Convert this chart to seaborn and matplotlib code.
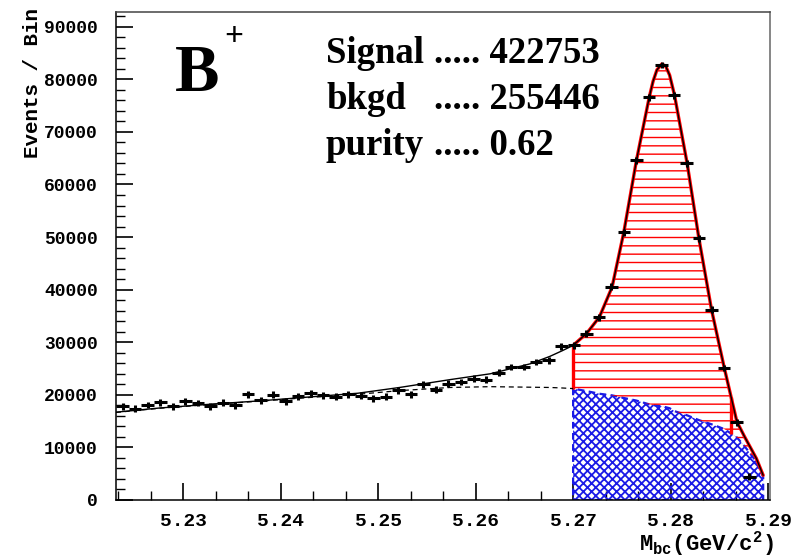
import numpy as np
import pandas as pd
import matplotlib
matplotlib.use("Agg")
import matplotlib.pyplot as plt
from matplotlib.ticker import MultipleLocator, FixedLocator
import seaborn as sns

# ---------------- data ----------------
# histogram bin centres (GeV) and events per bin
bin_centers = [5.223786, 5.225071, 5.226357, 5.227643, 5.228929, 5.230214, 5.231500,
               5.232786, 5.234071, 5.235357, 5.236643, 5.237929, 5.239214, 5.240500,
               5.241786, 5.243071, 5.244357, 5.245643, 5.246929, 5.248214, 5.249500,
               5.250786, 5.252071, 5.253357, 5.254643, 5.255929, 5.257214, 5.258500,
               5.259786, 5.261071, 5.262357, 5.263643, 5.264929, 5.266214, 5.267500,
               5.268786, 5.270071, 5.271357, 5.272643, 5.273929, 5.275214, 5.276500,
               5.277786, 5.279071, 5.280357, 5.281643, 5.282929, 5.284214, 5.285500,
               5.286786, 5.288071]
events = [17840, 17400, 18080, 18600, 17840, 18790, 18460,
          17840, 18540, 18030, 20110, 18980, 20060, 18790,
          19730, 20360, 19920, 19650, 20110, 19800, 19350,
          19650, 20870, 20110, 22010, 21000, 22140, 22450,
          23090, 22900, 24230, 25290, 25290, 26240, 26570,
          29220, 29410, 31630, 34780, 40550, 50910, 64640,
          76600, 82730, 77000, 64000, 49770, 36190, 25100,
          14740, 4420]
bin_width = 0.0012857
event_err = 650

# fit curves
fit_x = [5.2231, 5.2276, 5.2327, 5.2382, 5.2430, 5.2479, 5.2522, 5.2574, 5.2615,
         5.2656, 5.2676, 5.2689, 5.2700, 5.2714, 5.2727, 5.2740, 5.2752, 5.2765,
         5.2778, 5.2782, 5.2786, 5.2791, 5.2795, 5.2799, 5.2804, 5.2817, 5.2829,
         5.2842, 5.2855, 5.2868, 5.2876, 5.2888, 5.2895]
fit_total = [16700, 17500, 18200, 18900, 19600, 20300, 21400, 22900, 24000,
             25900, 27300, 28400, 29400, 31700, 34800, 40500, 50900, 64600,
             76500, 79600, 81800, 82900, 82500, 80800, 77000, 64000, 49800,
             36200, 25200, 14900, 12000, 7900, 4700]
fit_bkg = [16650, 17450, 18150, 18850, 19500, 20100, 20800, 21400, 21550,
           21450, 21400, 21300, 21190, 20700, 20200, 19900, 19400, 18900,
           18200, 18050, 17950, 17800, 17650, 17450, 16900, 16100, 15200,
           14400, 13500, 11900, 10200, 7300, 4400]
signal_edges = [5.2700, 5.2862]

stats_labels = ["Signal", "bkgd", "purity"]
stats_values = ["..... 422753", "..... 255446", "..... 0.62"]

# ---------------- style ----------------
sns.set_theme(style="white")
plt.rcParams["font.family"] = ["Liberation Mono", "DejaVu Sans"]
plt.rcParams["font.weight"] = "bold"
plt.rcParams["mathtext.fontset"] = "custom"
plt.rcParams["mathtext.rm"] = "Liberation Mono:bold"
plt.rcParams["mathtext.it"] = "Liberation Mono:bold"
plt.rcParams["mathtext.bf"] = "Liberation Mono:bold"

W, H = 807, 560
fig = plt.figure(figsize=(W / 100, H / 100), dpi=100)
ax = fig.add_axes([116 / W, 60 / H, 654 / W, 488 / H])

df_pts = pd.DataFrame({"m": bin_centers, "n": events})
df_fit = pd.DataFrame({"m": fit_x, "total": fit_total, "bkg": fit_bkg})
sig = df_fit[df_fit["m"] >= signal_edges[0]]
side = df_fit[df_fit["m"] <= signal_edges[0]]

# background (blue cross hatch)
plt.rcParams["hatch.linewidth"] = 1.3
ax.fill_between(sig["m"], 0, sig["bkg"], facecolor="none", edgecolor="#1a1ae6",
                hatch="xxxx", linestyle=(0, (3, 2)), linewidth=1.6, zorder=2)
# signal (red hatch)
plt.rcParams["hatch.linewidth"] = 1.0
ax.fill_between(sig["m"], sig["bkg"], sig["total"], facecolor="none",
                edgecolor="red", hatch="--", linewidth=0, zorder=2)
sns.lineplot(data=sig, x="m", y="total", color="red", lw=2.4, ax=ax, zorder=3)
for e in signal_edges:
    ax.vlines(e, np.interp(e, fit_x, fit_bkg), np.interp(e, fit_x, fit_total),
              color="red", lw=2.4, zorder=3)

# fit curves
sns.lineplot(data=side, x="m", y="bkg", color="black", lw=0.9,
             linestyle=(0, (4, 3)), ax=ax, zorder=4)
sns.lineplot(data=df_fit, x="m", y="total", color="black", lw=1.0, ax=ax, zorder=4)

# data points
ax.errorbar(df_pts["m"], df_pts["n"], xerr=bin_width / 2, yerr=event_err,
            fmt="none", ecolor="black", elinewidth=2.2, capsize=0, zorder=5)

# axes
ax.set_xlim(5.2231, 5.2902)
ax.set_ylim(0, 92800)
ax.xaxis.set_major_locator(FixedLocator([5.23, 5.24, 5.25, 5.26, 5.27, 5.28, 5.29]))
ax.xaxis.set_minor_locator(MultipleLocator(0.01 / 3))
ax.yaxis.set_major_locator(MultipleLocator(10000))
ax.yaxis.set_minor_locator(MultipleLocator(2000))
ax.xaxis.set_major_formatter(matplotlib.ticker.FormatStrFormatter("%.2f"))
ax.tick_params(axis="both", which="major", direction="in", length=12, width=1.2,
               color="black", bottom=True, left=True, top=False, right=False)
ax.tick_params(axis="both", which="minor", direction="in", length=6.5, width=1.0,
               color="black", bottom=True, left=True, top=False, right=False)
ax.tick_params(axis="x", which="major", labelsize=14, pad=9)
ax.tick_params(axis="y", which="major", labelsize=13, pad=13)
for lab in ax.get_xticklabels() + ax.get_yticklabels():
    lab.set_fontweight("bold")
    lab.set_color("black")
for s in ax.spines.values():
    s.set_color("black")
    s.set_linewidth(1.1)
ax.spines["top"].set_color("#444444")
ax.spines["right"].set_color("#666666")
ax.set_xlabel("")
ax.set_ylabel("")

fig.text(33 / W, 1 - 8 / H, "Events / Bin", rotation=90, ha="center", va="top",
         fontsize=15, fontweight="bold", color="black")
fig.text(774 / W, 1 - 551 / H, r"M$_{\mathrm{bc}}$(GeV/c$^{2}$)", ha="right",
         va="baseline", fontsize=16, fontweight="bold", color="black")

# annotation block
serif = ["Liberation Serif", "DejaVu Serif"]
fig.text(175 / W, 1 - 91 / H, "B", family=serif, fontweight="bold", fontsize=48,
         ha="left", va="baseline", color="black")
fig.text(234 / W, 1 - 45 / H, "+", family=serif, fontweight="bold", fontsize=24,
         ha="center", va="baseline", color="black")
baselines = [63, 109, 155]
for lab, val, yb in zip(stats_labels, stats_values, baselines):
    fig.text(326 / W, 1 - yb / H, lab, family=serif, fontweight="bold",
             fontsize=26.5, ha="left", va="baseline", color="black")
    fig.text(434 / W, 1 - yb / H, val, family=serif, fontweight="bold",
             fontsize=26.5, ha="left", va="baseline", color="black")

fig.savefig("out.png", dpi=100)
